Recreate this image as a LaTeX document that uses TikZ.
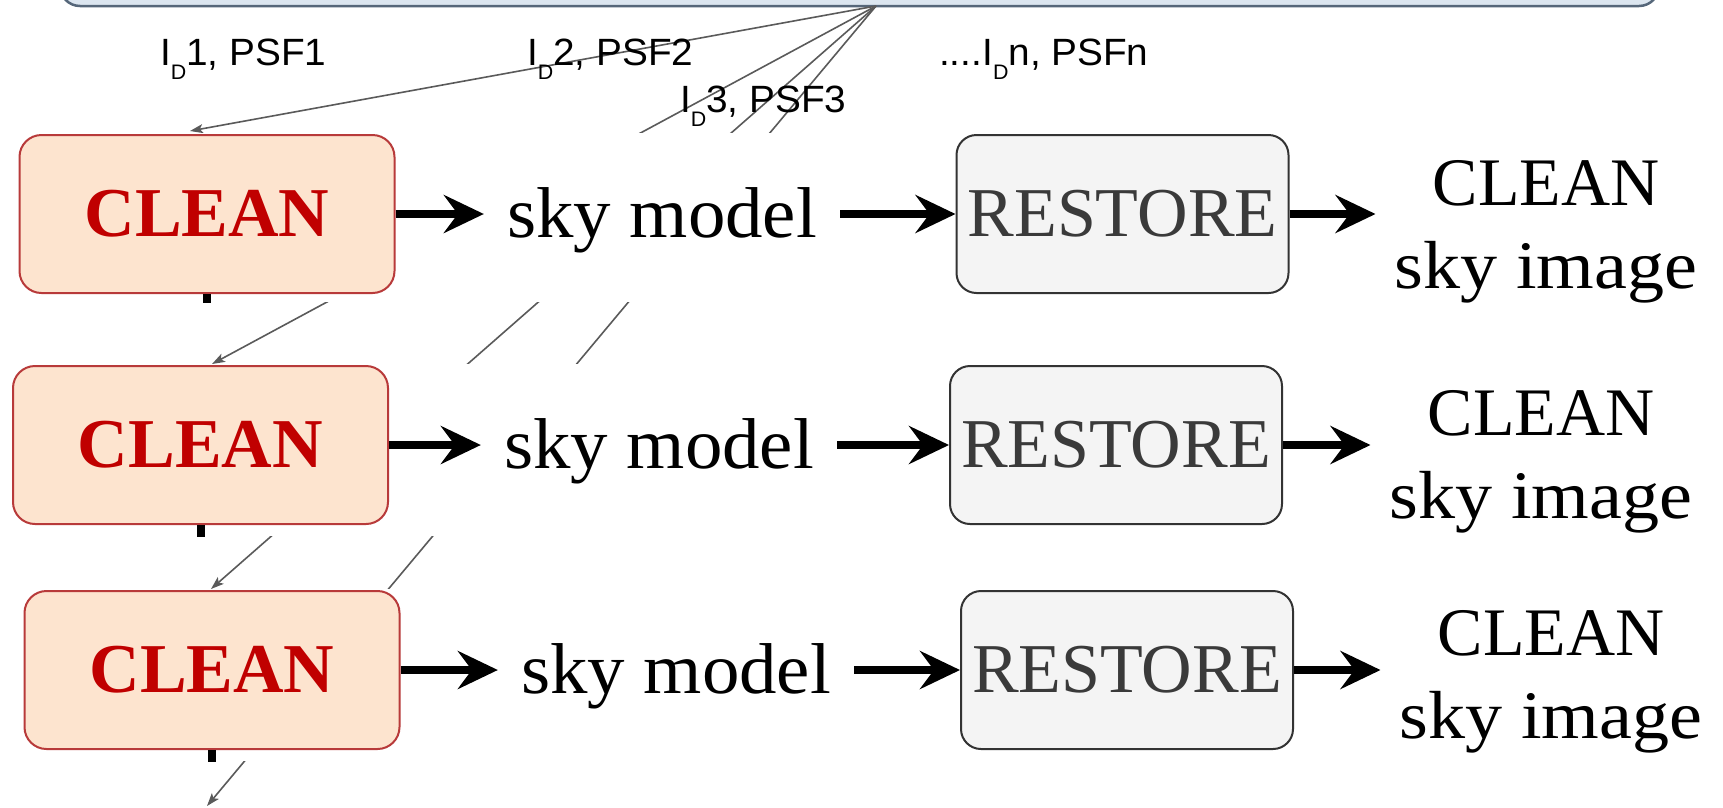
\documentclass[tikz,border=0pt]{standalone}
\usepackage{fontspec}
\setmainfont{Liberation Serif}
\newfontfamily\labelfont{Liberation Sans}
\usetikzlibrary{arrows.meta}

\definecolor{cleanfill}{HTML}{FDE4CF}
\definecolor{cleanline}{HTML}{B83A3A}
\definecolor{cleantext}{HTML}{C00000}
\definecolor{restfill}{HTML}{F4F4F4}
\definecolor{restline}{HTML}{333333}
\definecolor{resttext}{HTML}{3A3A3A}
\definecolor{topfill}{HTML}{DCE6F0}
\definecolor{topline}{HTML}{56677A}
\definecolor{fanline}{HTML}{5A5A5A}

% subscript D of the dirty image I_D
\newcommand{\IDsub}{\raisebox{-14pt}{\fontsize{21}{21}\selectfont D}}
\newcommand{\fanlbl}[1]{\scalebox{1.02}[1]{#1}}
\newcommand{\skymodel}{\scalebox{1.04}[1]{sky model}}
\newcommand{\skyimage}{CLEAN\\\scalebox{1.09}[1]{sky image}}

\tikzset{
  topbox/.style={draw=topline, fill=topfill, line width=2.5pt, rounded corners=20pt,
    minimum width=1599pt, minimum height=120pt, inner sep=0pt},
  cleanbox/.style={draw=cleanline, fill=cleanfill, line width=2pt, rounded corners=22pt,
    minimum width=375pt, minimum height=158pt, inner sep=0pt,
    font=\fontsize{70}{70}\selectfont\bfseries, text=cleantext},
  restbox/.style={draw=restline, fill=restfill, line width=2pt, rounded corners=20pt,
    minimum width=332pt, minimum height=158pt, inner sep=0pt,
    font=\fontsize{70}{70}\selectfont, text=resttext},
  skytext/.style={font=\fontsize{72}{72}\selectfont, inner xsep=23pt, inner ysep=0pt, anchor=base},
  outtext/.style={font=\fontsize{68}{83}\selectfont, align=center, inner xsep=19pt,
    inner ysep=0pt, anchor=north},
  flow/.style={line width=8pt, -{Stealth[length=40pt,width=38pt,inset=14pt]}},
  feed/.style={draw=fanline, line width=1.6pt, -{Stealth[length=13pt,width=9pt,inset=3pt]}},
  stub/.style={line width=8pt},
  fanlabel/.style={font=\labelfont\fontsize{38}{38}\selectfont, inner sep=0pt, anchor=base west},
  rowmask/.style={fill=white}
}

\begin{document}
\begin{tikzpicture}[x=1pt,y=-1pt]
\useasboundingbox (0,0) rectangle (1723,807);
\clip (0,0) rectangle (1723,807);

% source box at the top and the fan of dirty images / PSFs
\node[topbox] (src) at (859.5,-54) {};
\coordinate (F) at (876,6);
\coordinate (tA) at (190,131);
\coordinate (tB) at (212,364);
\coordinate (tC) at (211,589);
\coordinate (tD) at (207,806);

\draw[feed] (F) -- (tA);
\draw[feed] (F) -- (tB);
\draw[feed] (F) -- (tC);
\draw[feed] (F) -- (tD);

\node[fanlabel] (l1) at (160,65) {\fanlbl{I\IDsub1, PSF1}};
\node[fanlabel] (l2) at (527,65) {\fanlbl{I\IDsub2, PSF2}};
\node[fanlabel] (l3) at (680,112) {\fanlbl{I\IDsub3, PSF3}};
\node[fanlabel] (ln) at (939,65) {\fanlbl{....I\IDsub n, PSFn}};

% white row backgrounds
\fill[rowmask] (0,133) rectangle (1723,302);
\fill[rowmask] (0,364) rectangle (1723,536);
\fill[rowmask] (0,589) rectangle (1723,761);

% row 1
\node[cleanbox] (c1) at (207,214) {CLEAN};
\node[skytext] (m1) at (662,237) {\skymodel};
\node[restbox] (r1) at (1122.5,214) {RESTORE};
\node[outtext] (o1) at (1546,160) {\skyimage};
\draw[flow] (c1.east) -- (c1.east -| m1.west);
\draw[flow] (m1.east |- r1.west) -- (r1.west);
\draw[flow] (r1.east) -- (r1.east -| o1.west);
\draw[stub] (c1.south) -- ++(0,9);

% row 2
\node[cleanbox] (c2) at (200.5,445) {CLEAN};
\node[skytext] (m2) at (659,468) {\skymodel};
\node[restbox] (r2) at (1116,445) {RESTORE};
\node[outtext] (o2) at (1541,390) {\skyimage};
\draw[flow] (c2.east) -- (c2.east -| m2.west);
\draw[flow] (m2.east |- r2.west) -- (r2.west);
\draw[flow] (r2.east) -- (r2.east -| o2.west);
\draw[stub] (c2.south) -- ++(0,12);

% row 3
\node[cleanbox] (c3) at (212,670) {CLEAN};
\node[skytext] (m3) at (676,693) {\skymodel};
\node[restbox] (r3) at (1127,670) {RESTORE};
\node[outtext] (o3) at (1551,610) {\skyimage};
\draw[flow] (c3.east) -- (c3.east -| m3.west);
\draw[flow] (m3.east |- r3.west) -- (r3.west);
\draw[flow] (r3.east) -- (r3.east -| o3.west);
\draw[stub] (c3.south) -- ++(0,12);
\end{tikzpicture}
\end{document}
